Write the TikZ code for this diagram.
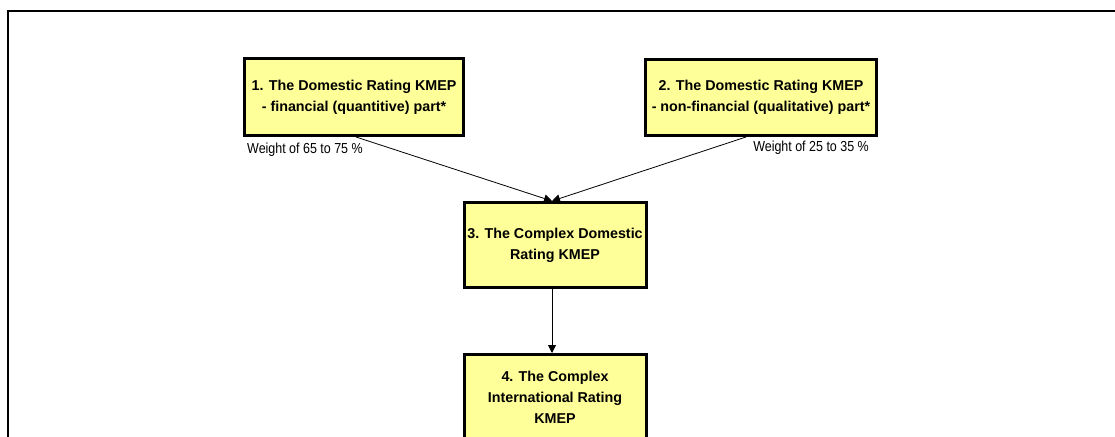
\documentclass[tikz,border=0pt]{standalone}
\usepackage{fontspec}
\setmainfont{Liberation Sans}
\newfontfamily\labelfont[FakeStretch=0.86]{Liberation Sans}
\usetikzlibrary{arrows.meta}
\definecolor{boxfill}{HTML}{FFFF99}
\tikzset{
  ratingbox/.style={draw=black, line width=3pt, fill=boxfill, rectangle,
    align=center, inner sep=0pt,
    font=\fontsize{14.3}{21}\selectfont\bfseries},
  weightlabel/.style={inner sep=0pt, font=\labelfont\fontsize{14.5}{17}\selectfont},
  flow/.style={line width=0.8pt, -{Triangle[length=8pt,width=8pt]}},
  frame/.style={line width=2.5pt, line cap=rect}
}
\begin{document}
\begin{tikzpicture}[x=1pt, y=-1pt]
  \useasboundingbox (0,0) rectangle (1115,436);
  \clip (0,0) rectangle (1115,436);

  % page frame (top and left edges)
  \draw[frame] (8,436) -- (8,11) -- (1115,11);

  % rating boxes
  \node[ratingbox, minimum width=219pt, minimum height=77pt] (b1) at (354,97)
    {1. The Domestic Rating KMEP\\- financial (quantitive) part*};
  \node[ratingbox, minimum width=231pt, minimum height=76pt] (b2) at (761,97.5)
    {2. The Domestic Rating KMEP\\- non-financial (qualitative) part*};
  \node[ratingbox, minimum width=182pt, minimum height=85pt] (b3) at (555,245)
    {3. The Complex Domestic\\Rating KMEP};
  \node[ratingbox, minimum width=182pt, minimum height=85pt] (b4) at (555,397)
    {4. The Complex\\International Rating\\KMEP};

  % weight labels
  \node[weightlabel, anchor=base west] (w1) at (247,153.5) {Weight of 65 to 75 \%};
  \node[weightlabel, anchor=base east] (w2) at (869,151.5) {Weight of 25 to 35 \%};

  % connectors
  \coordinate (s1) at ([xshift=2pt]b1.south);
  \coordinate (s2) at ([xshift=-15pt]b2.south);
  \coordinate (t3) at ([xshift=-3pt]b3.north);
  \coordinate (s3) at ([xshift=-3pt]b3.south);
  \coordinate (t4) at ([xshift=-3pt]b4.north);
  \draw[flow] (s1) -- (t3);
  \draw[flow] (s2) -- (t3);
  \draw[flow] (s3) -- (t4);
\end{tikzpicture}
\end{document}
